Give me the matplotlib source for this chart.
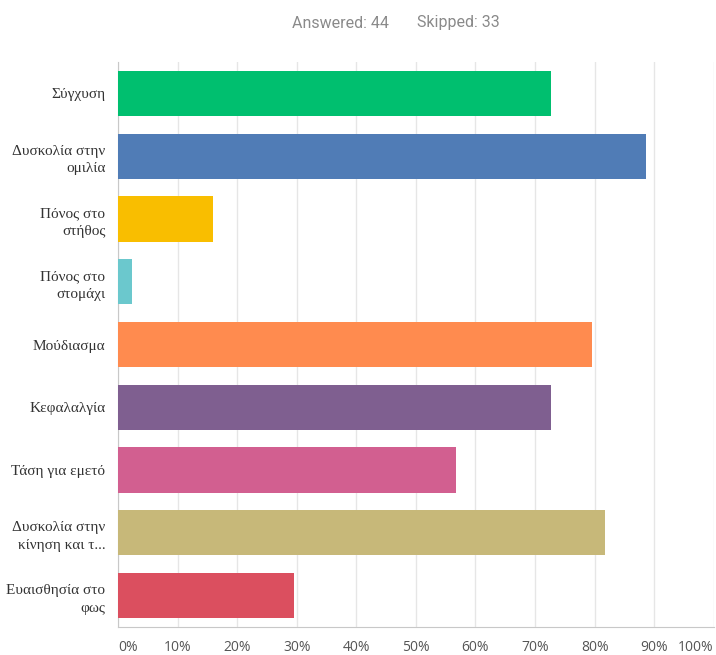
import matplotlib.pyplot as plt
import numpy as np

# survey answers (44 respondents)
categories = ['Σύγχυση', 'Δυσκολία στην\nομιλία', 'Πόνος στο\nστήθος', 'Πόνος στο\nστομάχι',
              'Μούδιασμα', 'Κεφαλαλγία', 'Τάση για εμετό', 'Δυσκολία στην\nκίνηση και τ...',
              'Ευαισθησία στο\nφως']
percents = [72.73, 88.64, 15.91, 2.27, 79.55, 72.73, 56.82, 81.82, 29.55]
colors = ['#00BF6F', '#507CB6', '#F9BE00', '#6BC8CD', '#FF8B4F', '#7F5F90', '#D25F90',
          '#C7B879', '#DB4F5F']
ticks = list(range(0, 101, 10))
tick_labels = [f'{t}%' for t in ticks]

fig = plt.figure(figsize=(7.16, 6.55), dpi=100)
ax = fig.add_axes([0.1648, 0.0427, 0.832, 0.8626])

y = np.arange(len(categories))
ax.barh(y, percents, height=0.72, color=colors, zorder=3)
ax.set_ylim(len(categories) - 0.5, -0.5)
ax.set_xlim(0, 100)

ax.set_xticks(ticks)
ax.xaxis.grid(True, color='#e6e6e6', linewidth=1, zorder=0)
ax.tick_params(axis='both', length=0)
ax.set_xticklabels([])
ax.set_yticks(y)
ax.set_yticklabels(categories, family='Liberation Serif', fontsize=11, color='#333333',
                   linespacing=1.45)
ax.tick_params(axis='y', pad=9)

for s in ['top', 'right']:
    ax.spines[s].set_visible(False)
ax.spines['left'].set_color('#c8c8c8')
ax.spines['bottom'].set_color('#c8c8c8')

# percent labels under the axis, outer ones pulled inward
for i, (t, lab) in enumerate(zip(ticks, tick_labels)):
    ha = 'center'
    if i == 0:
        ha = 'left'
    elif i == len(ticks) - 1:
        ha = 'right'
    ax.annotate(lab, xy=(t, 0), xycoords=('data', 'axes fraction'), xytext=(0, -20),
                textcoords='offset pixels', ha=ha, va='center',
                fontsize=10, family='Open Sans', color='#555555')

fig.text(340 / 716, 1 - 23 / 655, 'Answered: 44', ha='center', va='center',
         fontsize=11.5, family='Roboto', color='#8a8a8a')
fig.text(458 / 716, 1 - 23 / 655, 'Skipped: 33', ha='center', va='center',
         fontsize=11.5, family='Roboto', color='#8a8a8a')

fig.savefig('out.png', dpi=100)
